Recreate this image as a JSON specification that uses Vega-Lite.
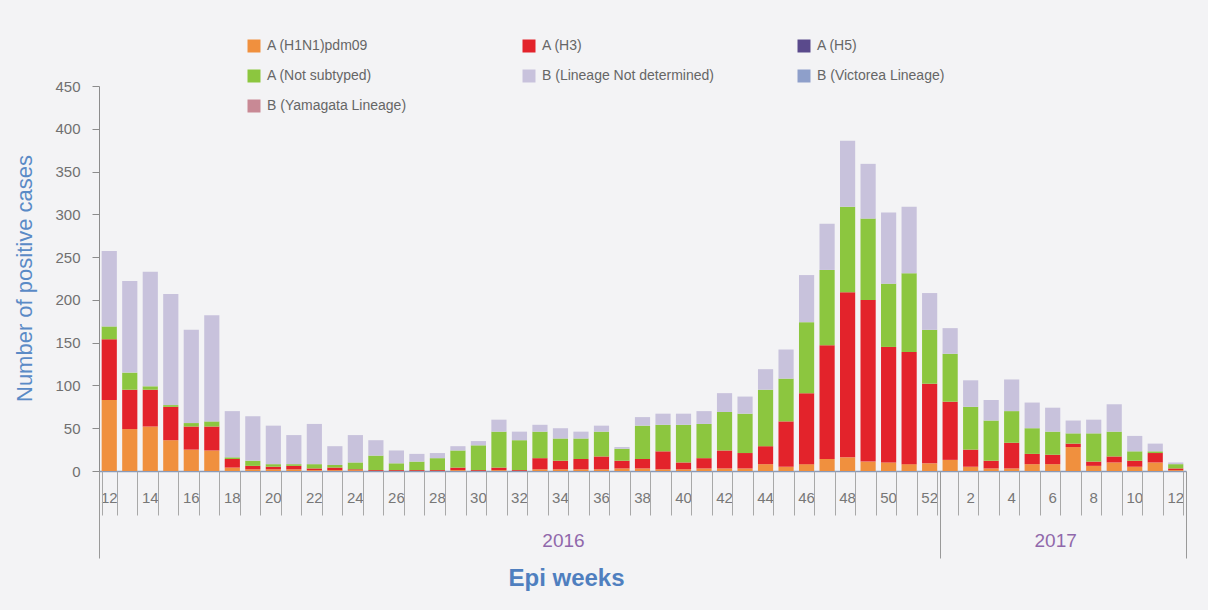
{
  "$schema": "https://vega.github.io/schema/vega-lite/v6.json",
  "width": 1087,
  "height": 385,
  "autosize": {"type": "none"},
  "padding": {"left": 99, "top": 86, "right": 22, "bottom": 139},
  "background": "#f3f3f5",
  "config": {"view": {"stroke": null}, "font": "Liberation Sans"},
  "data": {
    "values": [
      {"wk": "2016-12", "A (H1N1)pdm09": 83, "A (H3)": 71, "A (Not subtyped)": 15, "B (Lineage Not determined)": 88},
      {"wk": "2016-13", "A (H1N1)pdm09": 49, "A (H3)": 46, "A (Not subtyped)": 20, "B (Lineage Not determined)": 107},
      {"wk": "2016-14", "A (H1N1)pdm09": 52, "A (H3)": 43, "A (Not subtyped)": 4, "B (Lineage Not determined)": 134},
      {"wk": "2016-15", "A (H1N1)pdm09": 36, "A (H3)": 39, "A (Not subtyped)": 2, "B (Lineage Not determined)": 130},
      {"wk": "2016-16", "A (H1N1)pdm09": 25, "A (H3)": 27, "A (Not subtyped)": 4, "B (Lineage Not determined)": 109},
      {"wk": "2016-17", "A (H1N1)pdm09": 24, "A (H3)": 28, "A (Not subtyped)": 6, "B (Lineage Not determined)": 124},
      {"wk": "2016-18", "A (H1N1)pdm09": 4, "A (H3)": 10, "A (Not subtyped)": 2, "B (Lineage Not determined)": 54},
      {"wk": "2016-19", "A (H1N1)pdm09": 2, "A (H3)": 4, "A (Not subtyped)": 6, "B (Lineage Not determined)": 52},
      {"wk": "2016-20", "A (H1N1)pdm09": 2, "A (H3)": 3, "A (Not subtyped)": 3, "B (Lineage Not determined)": 45},
      {"wk": "2016-21", "A (H1N1)pdm09": 2, "A (H3)": 4, "A (Not subtyped)": 2, "B (Lineage Not determined)": 34},
      {"wk": "2016-22", "A (H1N1)pdm09": 1, "A (H3)": 2, "A (Not subtyped)": 5, "B (Lineage Not determined)": 47},
      {"wk": "2016-23", "A (H1N1)pdm09": 1, "A (H3)": 3, "A (Not subtyped)": 3, "B (Lineage Not determined)": 22},
      {"wk": "2016-24", "A (H1N1)pdm09": 1, "A (H3)": 1, "A (Not subtyped)": 8, "B (Lineage Not determined)": 32},
      {"wk": "2016-25", "A (H1N1)pdm09": 0, "A (H3)": 1, "A (Not subtyped)": 17, "B (Lineage Not determined)": 18},
      {"wk": "2016-26", "A (H1N1)pdm09": 0, "A (H3)": 1, "A (Not subtyped)": 8, "B (Lineage Not determined)": 15},
      {"wk": "2016-27", "A (H1N1)pdm09": 0, "A (H3)": 1, "A (Not subtyped)": 10, "B (Lineage Not determined)": 9},
      {"wk": "2016-28", "A (H1N1)pdm09": 0, "A (H3)": 1, "A (Not subtyped)": 14, "B (Lineage Not determined)": 6},
      {"wk": "2016-29", "A (H1N1)pdm09": 1, "A (H3)": 3, "A (Not subtyped)": 20, "B (Lineage Not determined)": 5},
      {"wk": "2016-30", "A (H1N1)pdm09": 0, "A (H3)": 1, "A (Not subtyped)": 29, "B (Lineage Not determined)": 5},
      {"wk": "2016-31", "A (H1N1)pdm09": 1, "A (H3)": 3, "A (Not subtyped)": 42, "B (Lineage Not determined)": 14},
      {"wk": "2016-32", "A (H1N1)pdm09": 0, "A (H3)": 1, "A (Not subtyped)": 35, "B (Lineage Not determined)": 10},
      {"wk": "2016-33", "A (H1N1)pdm09": 2, "A (H3)": 13, "A (Not subtyped)": 31, "B (Lineage Not determined)": 8},
      {"wk": "2016-34", "A (H1N1)pdm09": 2, "A (H3)": 10, "A (Not subtyped)": 26, "B (Lineage Not determined)": 12},
      {"wk": "2016-35", "A (H1N1)pdm09": 2, "A (H3)": 12, "A (Not subtyped)": 24, "B (Lineage Not determined)": 8},
      {"wk": "2016-36", "A (H1N1)pdm09": 2, "A (H3)": 15, "A (Not subtyped)": 29, "B (Lineage Not determined)": 7},
      {"wk": "2016-37", "A (H1N1)pdm09": 3, "A (H3)": 9, "A (Not subtyped)": 14, "B (Lineage Not determined)": 2},
      {"wk": "2016-38", "A (H1N1)pdm09": 3, "A (H3)": 11, "A (Not subtyped)": 39, "B (Lineage Not determined)": 10},
      {"wk": "2016-39", "A (H1N1)pdm09": 2, "A (H3)": 21, "A (Not subtyped)": 31, "B (Lineage Not determined)": 13},
      {"wk": "2016-40", "A (H1N1)pdm09": 2, "A (H3)": 8, "A (Not subtyped)": 44, "B (Lineage Not determined)": 13},
      {"wk": "2016-41", "A (H1N1)pdm09": 3, "A (H3)": 12, "A (Not subtyped)": 40, "B (Lineage Not determined)": 15},
      {"wk": "2016-42", "A (H1N1)pdm09": 3, "A (H3)": 21, "A (Not subtyped)": 45, "B (Lineage Not determined)": 22},
      {"wk": "2016-43", "A (H1N1)pdm09": 3, "A (H3)": 18, "A (Not subtyped)": 46, "B (Lineage Not determined)": 20},
      {"wk": "2016-44", "A (H1N1)pdm09": 8, "A (H3)": 21, "A (Not subtyped)": 66, "B (Lineage Not determined)": 24},
      {"wk": "2016-45", "A (H1N1)pdm09": 5, "A (H3)": 53, "A (Not subtyped)": 50, "B (Lineage Not determined)": 34},
      {"wk": "2016-46", "A (H1N1)pdm09": 8, "A (H3)": 83, "A (Not subtyped)": 83, "B (Lineage Not determined)": 55},
      {"wk": "2016-47", "A (H1N1)pdm09": 14, "A (H3)": 133, "A (Not subtyped)": 88, "B (Lineage Not determined)": 54},
      {"wk": "2016-48", "A (H1N1)pdm09": 16, "A (H3)": 193, "A (Not subtyped)": 100, "B (Lineage Not determined)": 77},
      {"wk": "2016-49", "A (H1N1)pdm09": 11, "A (H3)": 189, "A (Not subtyped)": 95, "B (Lineage Not determined)": 64},
      {"wk": "2016-50", "A (H1N1)pdm09": 10, "A (H3)": 135, "A (Not subtyped)": 74, "B (Lineage Not determined)": 83},
      {"wk": "2016-51", "A (H1N1)pdm09": 8, "A (H3)": 131, "A (Not subtyped)": 92, "B (Lineage Not determined)": 78},
      {"wk": "2016-52", "A (H1N1)pdm09": 9, "A (H3)": 93, "A (Not subtyped)": 63, "B (Lineage Not determined)": 43},
      {"wk": "2017-01", "A (H1N1)pdm09": 13, "A (H3)": 68, "A (Not subtyped)": 56, "B (Lineage Not determined)": 30},
      {"wk": "2017-02", "A (H1N1)pdm09": 5, "A (H3)": 20, "A (Not subtyped)": 50, "B (Lineage Not determined)": 31},
      {"wk": "2017-03", "A (H1N1)pdm09": 3, "A (H3)": 9, "A (Not subtyped)": 47, "B (Lineage Not determined)": 24},
      {"wk": "2017-04", "A (H1N1)pdm09": 3, "A (H3)": 30, "A (Not subtyped)": 37, "B (Lineage Not determined)": 37},
      {"wk": "2017-05", "A (H1N1)pdm09": 8, "A (H3)": 12, "A (Not subtyped)": 30, "B (Lineage Not determined)": 30},
      {"wk": "2017-06", "A (H1N1)pdm09": 8, "A (H3)": 11, "A (Not subtyped)": 27, "B (Lineage Not determined)": 28},
      {"wk": "2017-07", "A (H1N1)pdm09": 28, "A (H3)": 4, "A (Not subtyped)": 12, "B (Lineage Not determined)": 15},
      {"wk": "2017-08", "A (H1N1)pdm09": 6, "A (H3)": 5, "A (Not subtyped)": 33, "B (Lineage Not determined)": 16},
      {"wk": "2017-09", "A (H1N1)pdm09": 10, "A (H3)": 7, "A (Not subtyped)": 29, "B (Lineage Not determined)": 32},
      {"wk": "2017-10", "A (H1N1)pdm09": 5, "A (H3)": 7, "A (Not subtyped)": 11, "B (Lineage Not determined)": 18},
      {"wk": "2017-11", "A (H1N1)pdm09": 10, "A (H3)": 11, "A (Not subtyped)": 2, "B (Lineage Not determined)": 9},
      {"wk": "2017-12", "A (H1N1)pdm09": 1, "A (H3)": 2, "A (Not subtyped)": 5, "B (Lineage Not determined)": 2}
    ]
  },
  "transform": [
    {"fold": ["A (H1N1)pdm09", "A (H3)", "A (Not subtyped)", "B (Lineage Not determined)"], "as": ["type", "n"]}
  ],
  "layer": [
    {
      "mark": {"type": "bar"},
      "encoding": {
        "x": {
          "field": "wk", "type": "ordinal",
          "scale": {"type": "band", "paddingInner": 0.26, "paddingOuter": 0.13},
          "axis": {
            "orient": "bottom", "title": null, "ticks": false,
            "domainColor": "#8a9ab8", "domainWidth": 1.5,
            "labelExpr": "toNumber(substring(datum.value, 5)) % 2 == 0 ? '' + toNumber(substring(datum.value, 5)) : ''",
            "labelFontSize": 15, "labelColor": "#777777", "labelPadding": 19,
            "labelAngle": 0, "labelOverlap": false, "labelFlush": false
          }
        },
        "y": {
          "field": "n", "type": "quantitative", "stack": "zero",
          "scale": {"domain": [0, 450]},
          "axis": {
            "values": [0, 50, 100, 150, 200, 250, 300, 350, 400, 450],
            "title": "Number of positive cases", "grid": false,
            "domainColor": "#8c8c8c", "tickColor": "#8c8c8c", "tickSize": 7,
            "labelFontSize": 15, "labelColor": "#707070", "labelPadding": 12,
            "titleFontSize": 22, "titleColor": "#5a8ac6", "titleFontWeight": "normal",
            "titleX": -75, "titleY": 192, "titleBaseline": "middle", "titleAlign": "center"
          }
        },
        "order": {"field": "type", "sort": "ascending"},
        "color": {
          "field": "type", "type": "nominal",
          "scale": {
            "domain": ["A (H1N1)pdm09", "A (H3)", "A (H5)", "A (Not subtyped)", "B (Lineage Not determined)", "B (Victorea Lineage)", "B (Yamagata Lineage)"],
            "range": ["#f0903e", "#e3232b", "#5a4a8c", "#8cc63f", "#c8c2dc", "#8e9fca", "#c88995"]
          },
          "legend": {
            "orient": "none", "legendX": 148, "legendY": -47,
            "direction": "horizontal", "columns": 3, "gridAlign": "all",
            "columnPadding": 83, "rowPadding": 16,
            "symbolType": "square", "symbolSize": 169, "symbolStrokeWidth": 0,
            "labelFontSize": 14, "labelColor": "#666666", "labelOffset": 6,
            "title": null, "padding": 0, "labelLimit": 300
          }
        }
      }
    },
    {
      "mark": {"type": "bar", "opacity": 0},
      "encoding": {
        "x": {
          "field": "wk", "type": "ordinal",
          "axis": {
            "orient": "bottom", "title": null, "labels": false, "domain": false,
            "ticks": true, "tickBand": "extent", "tickSize": 44, "tickColor": "#a8a8a8", "tickWidth": 1
          }
        }
      }
    },
    {
      "mark": {"type": "bar", "opacity": 0},
      "encoding": {
        "x": {
          "field": "wk", "type": "ordinal",
          "axis": {
            "orient": "bottom", "title": null, "labels": false, "domain": false,
            "values": ["2016-12", "2017-01"], "bandPosition": 0, "tickOffset": -2.67,
            "ticks": true, "tickSize": 87, "tickColor": "#999999", "tickWidth": 1
          }
        }
      }
    },
    {
      "mark": {"type": "bar", "opacity": 0},
      "encoding": {
        "x": {
          "field": "wk", "type": "ordinal",
          "axis": {
            "orient": "bottom", "title": null, "labels": false, "domain": false,
            "values": ["2017-12"], "bandPosition": 1, "tickOffset": 2.67,
            "ticks": true, "tickSize": 87, "tickColor": "#999999", "tickWidth": 1
          }
        }
      }
    },
    {
      "mark": {"type": "bar", "opacity": 0},
      "encoding": {
        "x": {
          "field": "wk", "type": "ordinal",
          "axis": {
            "orient": "bottom", "domain": false, "ticks": false,
            "values": ["2016-34", "2017-06"], "bandPosition": 1, "labelOffset": 3,
            "labelExpr": "substring(datum.value, 0, 4)",
            "labelFontSize": 19, "labelColor": "#9068ab", "labelPadding": 60,
            "labelAngle": 0, "labelOverlap": false,
            "title": "Epi weeks", "titleX": 467, "titleY": 107,
            "titleFontSize": 24, "titleFontWeight": "bold", "titleColor": "#4f7fbf",
            "titleBaseline": "middle", "titleAlign": "center"
          }
        }
      }
    }
  ],
  "resolve": {"axis": {"x": "independent"}}
}
